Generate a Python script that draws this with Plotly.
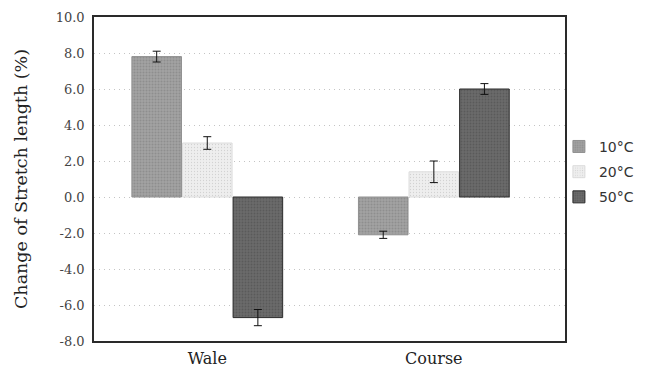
import plotly.graph_objects as go

categories = ["Wale", "Course"]
series_names = ["10°C", "20°C", "50°C"]
values_10 = [7.8, -2.1]
values_20 = [3.0, 1.4]
values_50 = [-6.7, 6.0]
err_10 = [0.3, 0.2]
err_20 = [0.35, 0.6]
err_50 = [0.45, 0.3]
y_ticks = [-8, -6, -4, -2, 0, 2, 4, 6, 8, 10]

colors = ["#a2a2a2", "#eeeeee", "#6a6a6a"]
lines = ["#909090", "#dcdcdc", "#2a2a2a"]
fgs = ["#7a7a7a", "#b5b5b5", "#4a4a4a"]
solid = [0.35, 0.15, 0.3]

fig = go.Figure()
for name, vals, errs, c, lc, fg, so in zip(series_names, [values_10, values_20, values_50],
                                           [err_10, err_20, err_50], colors, lines, fgs, solid):
    fig.add_trace(go.Bar(
        x=categories, y=vals, name=name, legendgroup=name,
        marker=dict(color=c, line=dict(color=lc, width=1),
                    pattern=dict(shape=".", fgcolor=fg, size=3, solidity=so)),
        error_y=dict(type="data", array=errs, color="#111111", thickness=1, width=4),
    ))

fig.update_layout(
    width=650, height=376,
    margin=dict(l=94, r=84, t=17, b=35),
    paper_bgcolor="white", plot_bgcolor="white",
    barmode="group", bargap=0.33, bargroupgap=0.02,
    font=dict(family="DejaVu Serif", color="#222222"),
    showlegend=True,
    legend=dict(x=0.985, y=0.522, xanchor="left", yanchor="middle",
                bgcolor="rgba(0,0,0,0)",
                font=dict(family="DejaVu Sans", size=14, color="#333333"),
                itemwidth=30, tracegroupgap=4),
    xaxis=dict(range=[-0.5, 1.579], showgrid=False, showline=True, linecolor="#2a2a2a",
               linewidth=1.5, mirror=True, ticks="", automargin=False,
               tickfont=dict(size=16, family="DejaVu Serif", color="#222222"),
               ticklabelstandoff=2),
    yaxis=dict(range=[-8, 10], tickvals=y_ticks, ticktext=[f"{v:.1f}" for v in y_ticks],
               showgrid=True, gridcolor="#c4c4c4", griddash="1px,4px", gridwidth=1,
               zeroline=False, showline=True, linecolor="#2a2a2a", linewidth=1.5, mirror=True,
               ticks="", ticklabelstandoff=5, automargin=False,
               tickfont=dict(size=13, family="DejaVu Serif", color="#444444"),
               title=dict(text="Change of Stretch length (%)",
                          font=dict(size=17.5, family="DejaVu Serif", color="#222222"),
                          standoff=24)),
)

fig.write_html("out.html")
